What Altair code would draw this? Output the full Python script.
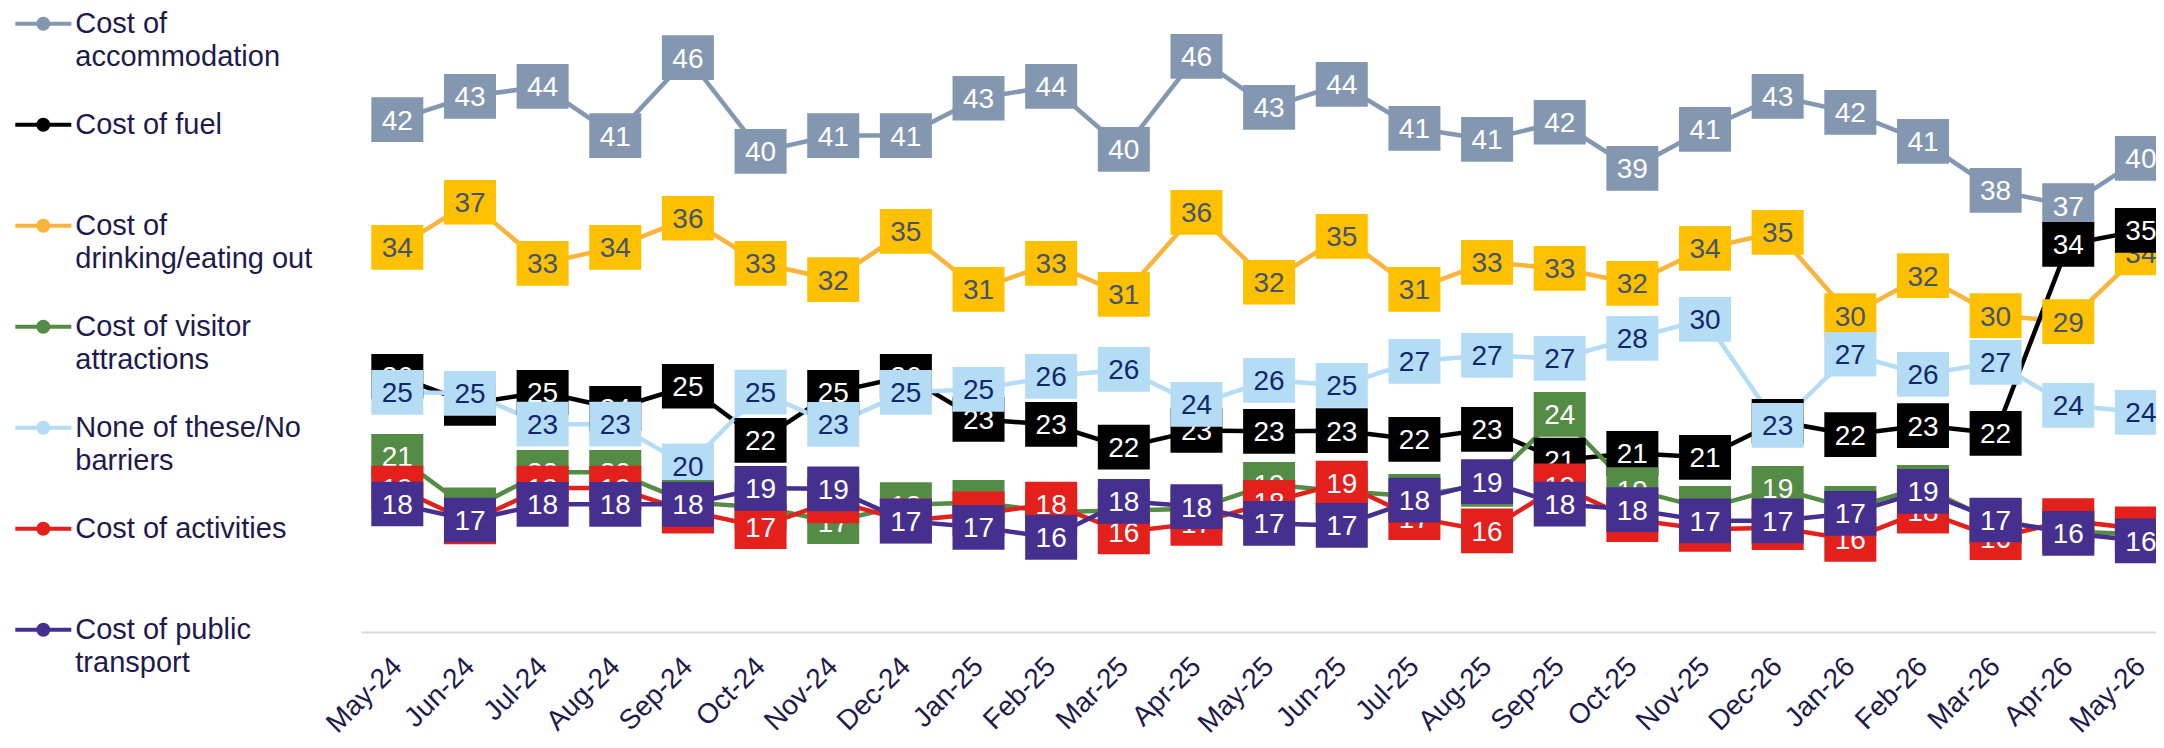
import altair as alt
import pandas as pd

MONTHS = ["May-24", "Jun-24", "Jul-24", "Aug-24", "Sep-24", "Oct-24", "Nov-24", "Dec-24",
          "Jan-25", "Feb-25", "Mar-25", "Apr-25", "May-25", "Jun-25", "Jul-25", "Aug-25",
          "Sep-25", "Oct-25", "Nov-25", "Dec-26", "Jan-26", "Feb-26", "Mar-26", "Apr-26", "May-26"]

ACCOMMODATION = [42.03, 43.48, 44.1, 41.03, 45.9, 40.04, 41.03, 41.03, 43.36, 44.1, 40.17, 45.98, 42.79,
                 44.23, 41.48, 40.79, 41.86, 38.98, 41.42, 43.48, 42.48, 40.67, 37.6, 36.65, 39.6]
FUEL = [25.98, 24.29, 24.98, 23.98, 25.36, 21.98, 24.98, 25.98, 23.29, 22.97, 21.55, 22.6, 22.54,
        22.58, 22.04, 22.67, 20.75, 21.17, 20.92, 23.17, 22.34, 22.9, 22.42, 34.22, 35.1]
DRINKING = [34.04, 36.86, 33.04, 34.04, 35.86, 33.04, 32.03, 35.04, 31.42, 33.04, 31.1, 36.23, 31.86,
            34.73, 31.42, 33.1, 32.73, 31.79, 33.98, 34.98, 29.78, 32.28, 29.78, 29.4, 33.69]
ATTRACTIONS = [20.98, 17.64, 19.98, 19.98, 18.1, 17.8, 16.89, 17.96, 18.1, 17.5, 17.6, 17.7, 19.23,
               18.8, 18.48, 19.23, 23.6, 18.9, 17.73, 18.98, 17.73, 19.04, 16.9, 16.3, 16.1]
NONE_OF_THESE = [24.98, 24.92, 22.99, 22.99, 20.39, 24.99, 22.97, 24.98, 25.17, 25.97, 26.42, 24.23, 25.73,
                 25.42, 26.92, 27.29, 27.1, 28.35, 29.54, 22.92, 27.36, 26.1, 26.85, 24.17, 23.73]
ACTIVITIES = [19.0, 16.88, 19.0, 19.0, 17.56, 16.58, 18.2, 16.95, 17.38, 18.0, 16.25, 16.79, 18.1,
              19.31, 17.15, 16.32, 19.14, 17.02, 16.42, 16.52, 15.79, 17.55, 15.9, 16.96, 16.44]
PUBLIC_TRANSPORT = [18.0, 17.0, 17.98, 17.98, 17.98, 18.98, 18.95, 16.93, 16.54, 15.92, 18.17, 17.84, 16.79,
                    16.66, 18.24, 19.4, 17.99, 17.65, 16.95, 16.95, 17.42, 18.79, 17.0, 16.17, 15.7]

# legend order
SERIES = ["Cost of|accommodation", "Cost of fuel", "Cost of|drinking/eating out",
          "Cost of visitor|attractions", "None of these/No|barriers", "Cost of activities",
          "Cost of public|transport"]
VALUES = [ACCOMMODATION, FUEL, DRINKING, ATTRACTIONS, NONE_OF_THESE, ACTIVITIES, PUBLIC_TRANSPORT]
LINE_COLORS = ["#8497B0", "#000000", "#FAB43C", "#548B45", "#B4DCF5", "#E3201B", "#46308F"]
BOX_COLORS = ["#8497B0", "#000000", "#FFC000", "#548B45", "#B4DCF5", "#E3201B", "#46308F"]
TEXT_COLORS = ["#FFFFFF", "#FFFFFF", "#44546A", "#FFFFFF", "#10286B", "#FFFFFF", "#FFFFFF"]
# drawing order (bottom to top)
Z_ORDER = [0, 2, 1, 4, 3, 5, 6]

rows = []
for zi in Z_ORDER:
    for m, v in zip(MONTHS, VALUES[zi]):
        rows.append({"series": SERIES[zi], "month": m, "value": v})
df = pd.DataFrame(rows)

FONT = "Liberation Sans"
NAVY = "#1E1B4B"

xenc = alt.X("month:N", sort=MONTHS,
             scale=alt.Scale(type="point", padding=0.5, range=[0, 1816.25]),
             axis=alt.Axis(title=None, labelAngle=-45, labelFontSize=28, labelFont=FONT,
                           labelColor=NAVY, ticks=False, domainColor="#D9D9D9", domainWidth=2,
                           labelPadding=30, labelOverlap=False, labelAlign="right",
                           labelBaseline="middle", grid=False))
yenc = alt.Y("value:Q", scale=alt.Scale(domain=[10, 49], nice=False, zero=False), axis=None)

SYMBOL = ("M-1,0L1,0"
          "M0.179,0A0.179,0.179,0,1,1,-0.179,0A0.179,0.179,0,1,1,0.179,0"
          "M0.107,0A0.107,0.107,0,1,1,-0.107,0A0.107,0.107,0,1,1,0.107,0"
          "M0.036,0A0.036,0.036,0,1,1,-0.036,0A0.036,0.036,0,1,1,0.036,0")

legend = alt.Legend(orient="none", legendX=-347.7, legendY=-14.3, title=None,
                    symbolType=SYMBOL, symbolSize=3136, symbolStrokeWidth=4,
                    labelFont=FONT, labelFontSize=29, labelColor=NAVY, labelLimit=450,
                    labelOffset=2, gridAlign="all", rowPadding=22, padding=0,
                    labelBaseline="middle",
                    labelExpr="split(datum.label, '|')")

lines = alt.Chart(df).mark_line(strokeWidth=4.5).encode(
    x=xenc, y=yenc,
    color=alt.Color("series:N", sort=SERIES,
                    scale=alt.Scale(domain=SERIES, range=LINE_COLORS), legend=legend),
)

BOX = "M-1,-0.86L1,-0.86L1,0.86L-1,0.86Z"
layers = [lines]
for zi in Z_ORDER:
    base = alt.Chart(df).transform_filter(alt.datum.series == SERIES[zi])
    layers.append(base.mark_point(shape=BOX, filled=True, size=2704, opacity=1, strokeWidth=0).encode(
        x=xenc, y=yenc, fill=alt.value(BOX_COLORS[zi])))
    layers.append(base.mark_text(font=FONT, fontSize=28, baseline="middle", dy=2).encode(
        x=xenc, y=yenc, text=alt.Text("value:Q", format=".0f"), color=alt.value(TEXT_COLORS[zi])))

chart = alt.layer(*layers).properties(
    width=1795, height=624, autosize="none",
    padding={"left": 353, "top": 0, "right": 0, "bottom": 108},
).configure(
    style={"guide-label": {"lineHeight": 33.5}},
    view=alt.ViewConfig(stroke=None),
)

chart.save("out.html", embed_options={"renderer": "svg", "actions": False})
